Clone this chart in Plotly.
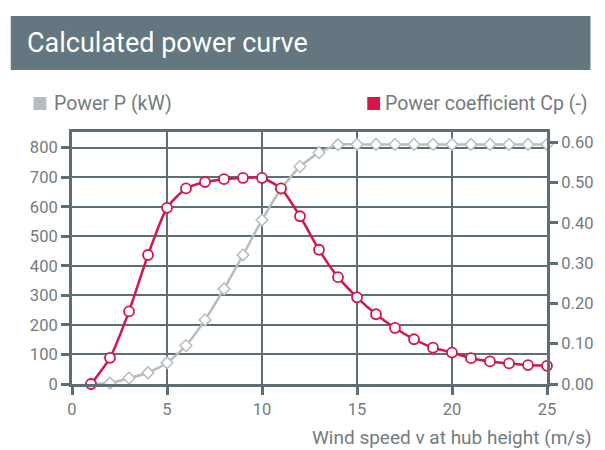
import plotly.graph_objects as go

# ---- data ----
wind_speed = list(range(1, 26))
power_kw = [0, 3, 20, 38, 72, 130, 217, 322, 437, 555, 660, 736, 783, 810,
            811, 811, 811, 811, 811, 811, 811, 811, 811, 811, 811]
cp = [0.000, 0.065, 0.180, 0.320, 0.437, 0.485, 0.501, 0.508, 0.511, 0.511,
      0.485, 0.416, 0.333, 0.265, 0.215, 0.173, 0.139, 0.111, 0.090, 0.078,
      0.064, 0.056, 0.051, 0.047, 0.045]
x_ticks = [0, 5, 10, 15, 20, 25]
left_ticks = [0, 100, 200, 300, 400, 500, 600, 700, 800]
right_ticks = [0.0, 0.1, 0.2, 0.3, 0.4, 0.5, 0.6]

title_text = "Calculated power curve"
legend_power = "Power P (kW)"
legend_cp = "Power coefficient Cp (-)"
x_title = "Wind speed v at hub height (m/s)"

# ---- style ----
AX = "#5d6e77"
TXT = "#737b80"
GREY = "#b6bcbf"
RED = "#d4174a"
BANNER = "#64767f"
FONT = "Roboto, Open Sans, sans-serif"

OFF = 8  # page body margin
W, H = 605 - OFF, 450 - OFF
L, R, T, B = 72 - OFF, 52, 132 - OFF, 66
pw = W - L - R
ph = H - T - B


def px_x(p):
    return (p - OFF - L) / pw


def px_y(p):
    return (H - B - (p - OFF)) / ph


fig = go.Figure()
fig.add_trace(go.Scatter(
    x=wind_speed, y=power_kw, mode="lines+markers", yaxis="y",
    line=dict(color=GREY, width=2.5, shape="spline", smoothing=0.6),
    marker=dict(symbol="diamond", size=9, color="white",
                line=dict(color=GREY, width=1.5)),
    showlegend=False, cliponaxis=False))
fig.add_trace(go.Scatter(
    x=wind_speed, y=cp, mode="lines+markers", yaxis="y2",
    line=dict(color=RED, width=2.5, shape="spline", smoothing=0.6),
    marker=dict(symbol="circle", size=10, color="white",
                line=dict(color=RED, width=1.8)),
    showlegend=False, cliponaxis=False))

fig.update_layout(
    width=W, height=H,
    margin=dict(l=L, r=R, t=T, b=B),
    paper_bgcolor="white", plot_bgcolor="white",
    font=dict(family=FONT, color=TXT, size=16),
    xaxis=dict(range=[0, 25], tickvals=x_ticks, showgrid=True,
               gridcolor=AX, gridwidth=2, showline=True, linecolor=AX,
               linewidth=3, mirror=True, ticks="outside", ticklen=8,
               tickwidth=3, tickcolor=AX, zeroline=False,
               tickfont=dict(size=16.5, color=TXT)),
    yaxis=dict(range=[0, 853], tickvals=left_ticks, showgrid=True,
               gridcolor=AX, gridwidth=2, showline=True, linecolor=AX,
               linewidth=3, ticks="outside", ticklen=8, tickwidth=3,
               tickcolor=AX, zeroline=False,
               tickfont=dict(size=16.5, color=TXT)),
    yaxis2=dict(range=[0, 0.625], tickvals=right_ticks, tickformat=".2f",
                overlaying="y", side="right", showgrid=False,
                showline=True, linecolor=AX, linewidth=3, ticks="outside",
                ticklen=8, tickwidth=3, tickcolor=AX, zeroline=False,
                tickfont=dict(size=16.5, color=TXT)),
)

shapes = [
    dict(type="rect", xref="paper", yref="paper",
         x0=px_x(10), x1=px_x(597), y0=px_y(70), y1=px_y(16),
         fillcolor=BANNER, line=dict(width=0), layer="below"),
    dict(type="rect", xref="paper", yref="paper",
         x0=px_x(33), x1=px_x(46), y0=px_y(110), y1=px_y(97),
         fillcolor=GREY, line=dict(width=0)),
    dict(type="rect", xref="paper", yref="paper",
         x0=px_x(371), x1=px_x(384), y0=px_y(110), y1=px_y(97),
         fillcolor=RED, line=dict(width=0)),
]
annotations = [
    dict(text=title_text, xref="paper", yref="paper", x=px_x(24), y=px_y(43),
         xanchor="left", yanchor="middle", showarrow=False,
         font=dict(size=27, color="white", family=FONT)),
    dict(text=legend_power, xref="paper", yref="paper", x=px_x(52), y=px_y(104),
         xanchor="left", yanchor="middle", showarrow=False,
         font=dict(size=19.5, color=TXT, family=FONT)),
    dict(text=legend_cp, xref="paper", yref="paper", x=px_x(387), y=px_y(104),
         xanchor="left", yanchor="middle", showarrow=False,
         font=dict(size=19.5, color=TXT, family=FONT)),
    dict(text=x_title, xref="paper", yref="paper", x=px_x(601), y=px_y(437),
         xanchor="right", yanchor="middle", showarrow=False,
         font=dict(size=19, color=TXT, family=FONT)),
]
fig.update_layout(shapes=shapes, annotations=annotations)

fig.write_html("out.html")
